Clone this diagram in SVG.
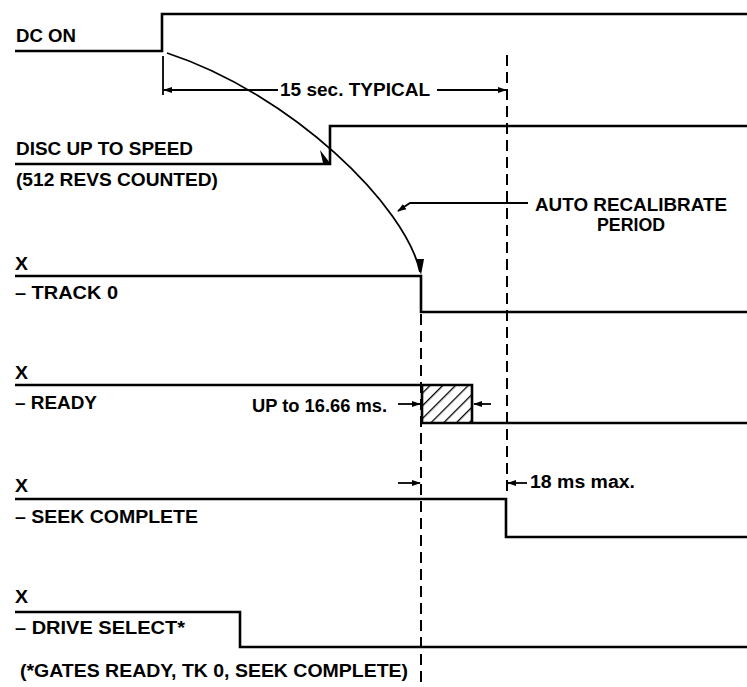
<svg xmlns="http://www.w3.org/2000/svg" width="747" height="687" viewBox="0 0 747 687">
<style>
  text { font-family: "Liberation Sans", Arial, sans-serif; font-weight: bold; font-size: 18px; fill: #000; }
  .sig { fill: none; stroke: #000; stroke-width: 2.6; stroke-linejoin: miter; }
  .thin { fill: none; stroke: #000; stroke-width: 1.8; }
  .dash { fill: none; stroke: #000; stroke-width: 2; stroke-dasharray: 11 6; }
</style>
<defs>
  <marker id="ah" viewBox="0 0 10 10" refX="9" refY="5" markerWidth="9" markerHeight="9" markerUnits="userSpaceOnUse" orient="auto">
    <path d="M0,1.5 L10,5 L0,8.5 Z" fill="#000"/>
  </marker>
  <pattern id="hatch" patternUnits="userSpaceOnUse" width="9" height="9" patternTransform="rotate(45)">
    <line x1="0" y1="0" x2="0" y2="9" stroke="#000" stroke-width="2.6"/>
  </pattern>
</defs>

<g id="dc-on">
  <text x="16" y="42" textLength="60" lengthAdjust="spacingAndGlyphs">DC ON</text>
  <path class="sig" d="M15,51 H162 V14 H747"/>
</g>

<g id="disc-up-to-speed">
  <text x="16" y="155" textLength="177" lengthAdjust="spacingAndGlyphs">DISC UP TO SPEED</text>
  <text x="16" y="186" textLength="202" lengthAdjust="spacingAndGlyphs">(512 REVS COUNTED)</text>
  <path class="sig" d="M15,164 H330 V126 H747"/>
</g>

<g id="track0">
  <text x="15" y="270" textLength="13" lengthAdjust="spacingAndGlyphs">X</text>
  <text x="15" y="299" textLength="103" lengthAdjust="spacingAndGlyphs">– TRACK 0</text>
  <path class="sig" d="M15,276 H421 V312 H747"/>
</g>

<g id="ready">
  <text x="15" y="379" textLength="13" lengthAdjust="spacingAndGlyphs">X</text>
  <text x="15" y="409" textLength="82" lengthAdjust="spacingAndGlyphs">– READY</text>
  <rect x="422" y="385" width="50" height="38" fill="url(#hatch)"/>
  <path class="sig" d="M15,385 H472 V423"/>
  <path class="sig" d="M422,385 V423 H747"/>
</g>

<g id="seek-complete">
  <text x="15" y="492" textLength="13" lengthAdjust="spacingAndGlyphs">X</text>
  <text x="15" y="523" textLength="183" lengthAdjust="spacingAndGlyphs">– SEEK COMPLETE</text>
  <path class="sig" d="M15,499 H506 V537 H747"/>
</g>

<g id="drive-select">
  <text x="15" y="603" textLength="13" lengthAdjust="spacingAndGlyphs">X</text>
  <text x="15" y="634" textLength="170" lengthAdjust="spacingAndGlyphs">– DRIVE SELECT*</text>
  <text x="20" y="677" textLength="388" lengthAdjust="spacingAndGlyphs">(*GATES READY, TK 0, SEEK COMPLETE)</text>
  <path class="sig" d="M15,612 H240 V647 H747"/>
</g>

<g id="connectors">
  <!-- reference dashed lines -->
  <line class="dash" x1="507" y1="55" x2="507" y2="497"/>
  <line class="dash" x1="421" y1="314" x2="421" y2="687"/>
  <!-- spin-up curve -->
  <path class="thin" d="M167,53 C292,94 406,206 420,272"/>
  <path d="M320,150 L330,163 L323,163 Z" fill="#000"/>
  <path d="M416,259 L421,275 L424,259 Z" fill="#000"/>
  <!-- 15 sec typical dimension -->
  <line class="thin" x1="163" y1="56" x2="163" y2="95"/>
  <line class="thin" x1="278" y1="90" x2="164" y2="90" marker-end="url(#ah)"/>
  <line class="thin" x1="437" y1="90" x2="506" y2="90" marker-end="url(#ah)"/>
  <!-- auto recalibrate leader -->
  <path class="thin" d="M528,203 H410 L398,211" marker-end="url(#ah)"/>
  <!-- 16.66 ms -->
  <line class="thin" x1="398" y1="404" x2="420" y2="404" marker-end="url(#ah)"/>
  <line class="thin" x1="491" y1="404" x2="474" y2="404" marker-end="url(#ah)"/>
  <!-- 18 ms max -->
  <line class="thin" x1="398" y1="483" x2="420" y2="483" marker-end="url(#ah)"/>
  <line class="thin" x1="527" y1="483" x2="508" y2="483" marker-end="url(#ah)"/>
</g>

<g id="labels">
  <text x="280" y="96" textLength="150" lengthAdjust="spacingAndGlyphs">15 sec. TYPICAL</text>
  <text x="535" y="211" textLength="192" lengthAdjust="spacingAndGlyphs">AUTO RECALIBRATE</text>
  <text x="597" y="231" textLength="68" lengthAdjust="spacingAndGlyphs">PERIOD</text>
  <text x="252" y="412" textLength="135" lengthAdjust="spacingAndGlyphs">UP to 16.66 ms.</text>
  <text x="530" y="488" textLength="105" lengthAdjust="spacingAndGlyphs">18 ms max.</text>
</g>
</svg>
